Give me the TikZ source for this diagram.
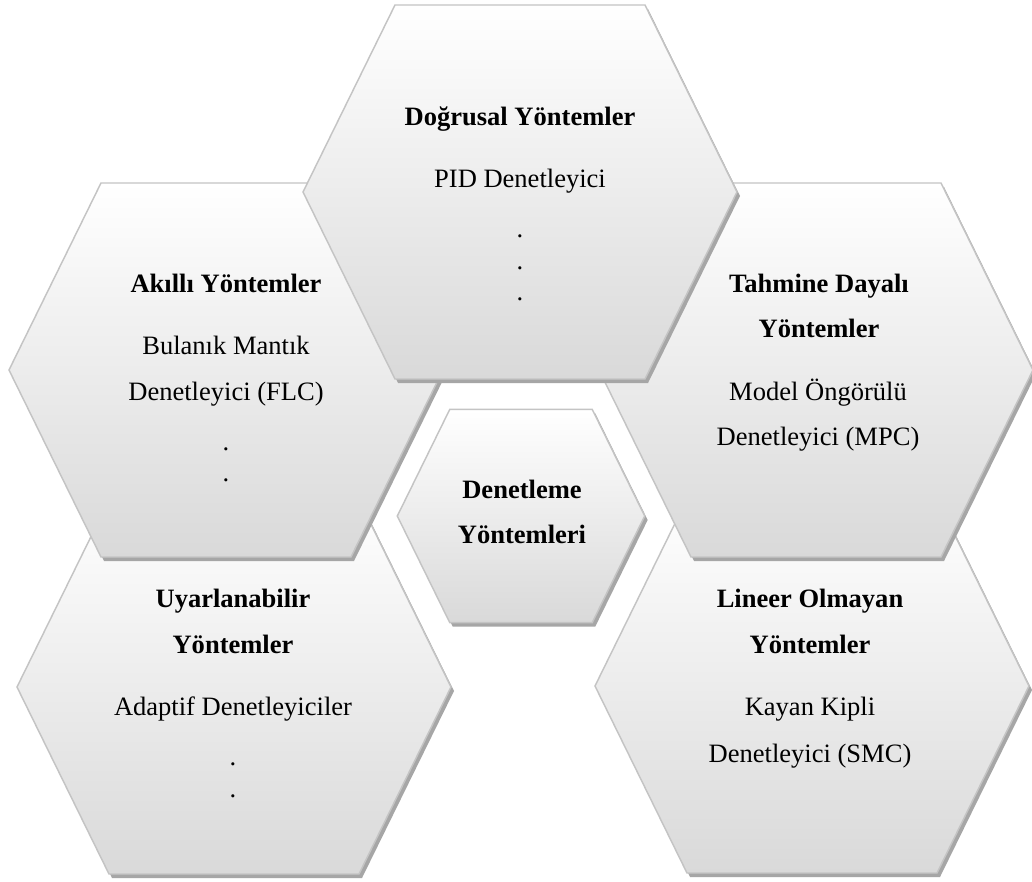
\documentclass[tikz,border=0pt]{standalone}
\usepackage{fontspec}
\setmainfont{Liberation Serif}
\definecolor{hexbot}{HTML}{D9D9D9}
\definecolor{hexline}{HTML}{C4C4C4}
\definecolor{hexshadow}{HTML}{A6A6A6}
\newcommand\fsz{\fontsize{19.9}{23}\selectfont}
\newcommand\drawhex[3]{%
 \pgfmathsetmacro\ha{217*#3}\pgfmathsetmacro\hb{125*#3}\pgfmathsetmacro\hh{187*#3}%
 \begin{scope}[shift={(#1,#2)}]
  \fill[hexshadow] (-\ha+3,4) -- (-\hb+3,-\hh+4) -- (\hb+3,-\hh+4) -- (\ha+3,4) -- (\hb+3,\hh+4) -- (-\hb+3,\hh+4) -- cycle;
  \path[hexbody] (-\ha,0) -- (-\hb,-\hh) -- (\hb,-\hh) -- (\ha,0) -- (\hb,\hh) -- (-\hb,\hh) -- cycle;
 \end{scope}}
\begin{document}
\begin{tikzpicture}[x=0.75pt,y=-0.75pt,
  hexbody/.style={draw=hexline, line width=1.1pt, top color=white, bottom color=hexbot},
  txt/.style={anchor=base, inner sep=0pt, font=\fsz},
  bold/.style={anchor=base, inner sep=0pt, font=\fsz\bfseries}]
\useasboundingbox[fill=white] (0,0) rectangle (1032,882);
% bottom row
\drawhex{234}{687}{1}
\drawhex{812}{686}{1}
% middle row
\drawhex{226}{370}{1}
\drawhex{816}{370}{1}
% top
\drawhex{520}{192}{1}
% centre
\drawhex{521}{516}{0.57}

% top hexagon text
\node[bold] (t1) at (520,125) {Doğrusal Yöntemler};
\node[txt] (t2) at (520,187) {PID Denetleyici};
\node[txt] (t3) at (520,237) {.};
\node[txt] (t4) at (520,269) {.};
\node[txt] (t5) at (520,300) {.};
% left hexagon text
\node[bold] (l1) at (226,292) {Akıllı Yöntemler};
\node[txt] (l2) at (226,354) {Bulanık Mantık};
\node[txt] (l3) at (226,400) {Denetleyici (FLC)};
\node[txt] (l4) at (226,450) {.};
\node[txt] (l5) at (226,481) {.};
% right hexagon text
\node[bold] (r1) at (819,292) {Tahmine Dayalı};
\node[bold] (r2) at (819,337) {Yöntemler};
\node[txt] (r3) at (818,400) {Model Öngörülü};
\node[txt] (r4) at (818,445) {Denetleyici (MPC)};
% centre text
\node[bold] (c1) at (522,498) {Denetleme};
\node[bold] (c2) at (522,543) {Yöntemleri};
% bottom-left text
\node[bold] (bl1) at (233,607) {Uyarlanabilir};
\node[bold] (bl2) at (233,653) {Yöntemler};
\node[txt] (bl3) at (233,715) {Adaptif Denetleyiciler};
\node[txt] (bl4) at (233,765) {.};
\node[txt] (bl5) at (233,797) {.};
% bottom-right text
\node[bold] (br1) at (810,607) {Lineer Olmayan};
\node[bold] (br2) at (810,653) {Yöntemler};
\node[txt] (br3) at (810,715) {Kayan Kipli};
\node[txt] (br4) at (810,762) {Denetleyici (SMC)};
\end{tikzpicture}
\end{document}
